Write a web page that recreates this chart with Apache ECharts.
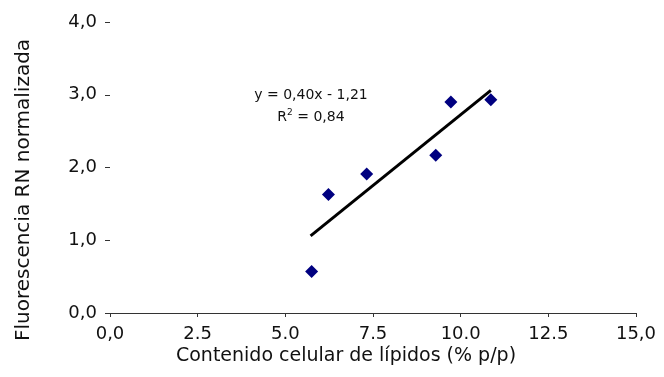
<!DOCTYPE html>
<html>
<head>
<meta charset="utf-8">
<script src="https://cdn.jsdelivr.net/npm/echarts@6/dist/echarts.min.js"></script>
<style>html,body{margin:0;padding:0;background:#fff}#c{width:664px;height:377px}</style>
</head>
<body>
<div id="c"></div>
<script>
var xValues = [5.75, 6.23, 7.32, 9.29, 9.72, 10.86];
var yValues = [0.57, 1.63, 1.91, 2.17, 2.90, 2.93];
var trendX = [5.72, 10.86];
var trendY = [1.06, 3.06];
var xTickLabels = ['0,0', '2.5', '5.0', '7.5', '10.0', '12.5', '15,0'];
var yTickLabels = ['0,0', '1,0', '2,0', '3,0', '4,0'];
var equationLines = ['y = 0,40x - 1,21', 'R{sup|2} = 0,84'];
var xTitle = 'Contenido celular de lípidos (% p/p)';
var yTitle = 'Fluorescencia RN normalizada';

var FONT = '"DejaVu Sans", "Liberation Sans", Arial, sans-serif';
var chart = echarts.init(document.getElementById('c'), null, {renderer: 'canvas'});
var points = xValues.map(function (x, i) { return [x, yValues[i]]; });
var trend = trendX.map(function (x, i) { return [x, trendY[i]]; });

chart.setOption({
  animation: false,
  backgroundColor: '#fff',
  grid: {left: 110, right: 28, top: 22, bottom: 64},
  xAxis: {
    type: 'value', min: 0, max: 15, interval: 2.5,
    axisLine: {show: true, lineStyle: {color: '#333', width: 1}},
    axisTick: {show: true, length: 4, lineStyle: {color: '#333'}},
    splitLine: {show: false},
    axisLabel: {
      fontFamily: FONT, fontSize: 18, color: '#111', margin: 12,
      formatter: function (v) { return xTickLabels[Math.round(v / 2.5)]; }
    }
  },
  yAxis: {
    type: 'value', min: 0, max: 4, interval: 1,
    axisLine: {show: false},
    axisTick: {show: true, length: 5, inside: false, lineStyle: {color: '#333'}},
    splitLine: {show: false},
    axisLabel: {
      fontFamily: FONT, fontSize: 18, color: '#111', margin: 13,
      formatter: function (v) { return yTickLabels[Math.round(v)]; }
    }
  },
  series: [
    {
      type: 'line', data: trend, symbol: 'none', silent: true,
      lineStyle: {color: '#000', width: 3}, z: 2
    },
    {
      type: 'scatter', data: points, symbol: 'diamond', symbolSize: 13,
      itemStyle: {color: '#000080', opacity: 1}, z: 3
    }
  ],
  graphic: [
    {
      type: 'text', x: 346, y: 356, z: 10,
      style: {
        text: xTitle, fontFamily: FONT, fontSize: 19, fill: '#111',
        align: 'center', verticalAlign: 'middle'
      }
    },
    {
      type: 'text', x: 24, y: 190, rotation: Math.PI / 2, z: 10,
      style: {
        text: yTitle, fontFamily: FONT, fontSize: 20, fill: '#111',
        align: 'center', verticalAlign: 'middle'
      }
    },
    {
      type: 'text', x: 311, y: 95, z: 10,
      style: {
        text: equationLines[0], fontFamily: FONT, fontSize: 14, fill: '#111',
        align: 'center', verticalAlign: 'middle'
      }
    },
    {
      type: 'text', x: 311, y: 117, z: 10,
      style: {
        text: equationLines[1], fontFamily: FONT, fontSize: 14, fill: '#111',
        align: 'center', verticalAlign: 'middle',
        rich: {sup: {fontSize: 9, verticalAlign: 'top', padding: [0, 0, 9, 0], fontFamily: FONT, fill: '#111'}}
      }
    }
  ]
});
</script>
</body>
</html>
